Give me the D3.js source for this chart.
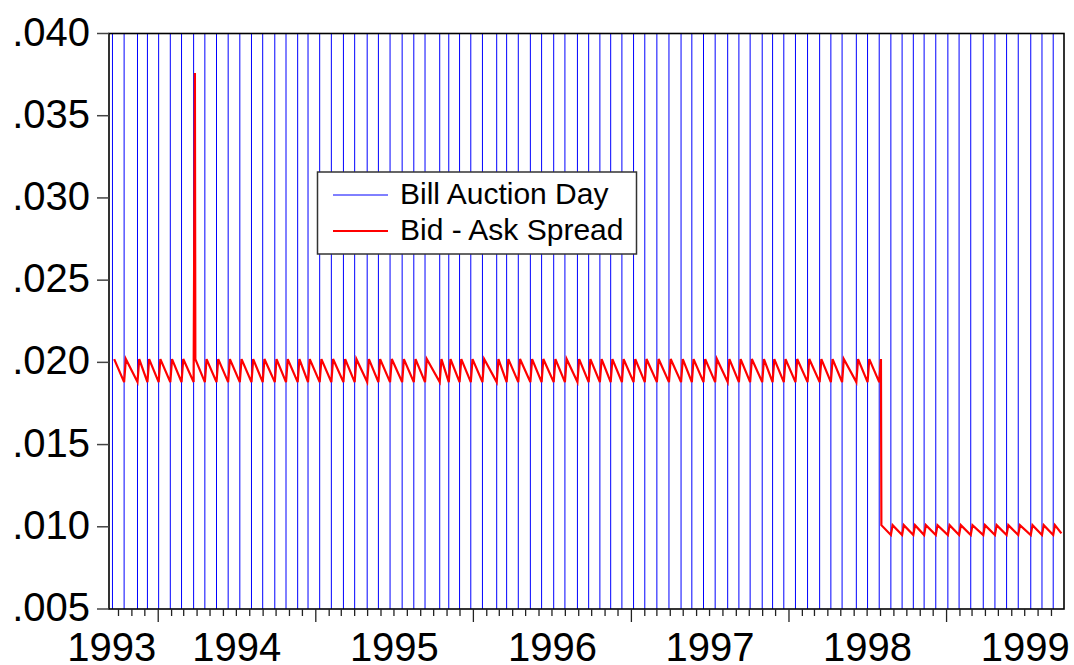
<!DOCTYPE html>
<html>
<head>
<meta charset="utf-8">
<script src="https://cdn.jsdelivr.net/npm/d3@7"></script>
<style>
  body { margin: 0; background: #fff; }
</style>
</head>
<body>
<div id="chart"></div>
<script>
// Bill auction days (blue verticals)
const auctionDates = [
  '1993-09-17', '1993-10-14', '1993-11-14', '1993-12-07',
  '1994-01-02', '1994-01-29', '1994-02-24', '1994-03-24', '1994-04-19', '1994-05-16', '1994-06-12',
  '1994-07-09', '1994-08-05', '1994-08-31', '1994-09-28', '1994-10-24', '1994-11-20', '1994-12-14',
  '1995-01-10', '1995-02-06', '1995-03-06', '1995-04-01', '1995-04-30', '1995-05-26', '1995-06-22',
  '1995-07-20', '1995-08-16', '1995-09-11', '1995-10-15', '1995-11-05', '1995-11-30', '1995-12-26',
  '1996-01-22', '1996-02-24', '1996-03-18', '1996-04-14', '1996-05-12', '1996-06-07', '1996-07-05',
  '1996-07-31', '1996-08-29', '1996-09-24', '1996-10-20', '1996-11-14', '1996-12-10',
  '1997-01-06', '1997-02-01', '1997-03-01', '1997-03-29', '1997-04-26', '1997-05-21', '1997-06-17',
  '1997-07-14', '1997-08-12', '1997-09-07', '1997-10-03', '1997-10-31', '1997-11-24', '1997-12-20',
  '1998-01-16', '1998-02-13', '1998-03-13', '1998-04-08', '1998-05-04', '1998-06-06', '1998-07-02',
  '1998-07-29', '1998-08-25', '1998-09-20', '1998-10-16', '1998-11-10', '1998-12-07',
  '1999-01-04', '1999-01-30', '1999-02-26', '1999-03-27', '1999-04-23', '1999-05-20', '1999-06-16',
  '1999-07-15', '1999-08-10', '1999-09-05'
];

// spread just after each auction (peak) and on the auction day itself (trough)
const spreadPeak = [
  .0202, .0202, .0202, .0202,
  .0202, .0202, .0202, .0202, .0202, .0202, .0202, .0202, .0202, .0202, .0202, .0202, .0202, .0202,
  .0202, .0202, .0202, .0202, .0202, .0202, .0202, .0202, .0202, .0202, .0202, .0202, .0202, .0202,
  .0202, .0202, .0202, .0202, .0202, .0202, .0202, .0202, .0202, .0202, .0202, .0202, .0202,
  .0202, .0202, .0202, .0202, .0202, .0202, .0202, .0202, .0202, .0202, .0202, .0202, .0202, .0202,
  .0202, .0202, .0202, .0202, .0202, .0202, .0202,
  .0101, .0101, .0101, .0101, .0101, .0101,
  .0101, .0101, .0101, .0101, .0101, .0101, .0101, .0101, .0101, .0101
];
const spreadTrough = [
  null, .0188, .0188, .0188,
  .0188, .0188, .0188, .0188, .0188, .0188, .0188, .0188, .0188, .0188, .0188, .0188, .0188, .0188,
  .0188, .0188, .0188, .0188, .0188, .0188, .0188, .0188, .0188, .0188, .0188, .0188, .0188, .0188,
  .0188, .0188, .0188, .0188, .0188, .0188, .0188, .0188, .0188, .0188, .0188, .0188, .0188,
  .0188, .0188, .0188, .0188, .0188, .0188, .0188, .0188, .0188, .0188, .0188, .0188, .0188, .0188,
  .0188, .0188, .0188, .0188, .0188, .0188, .0188,
  .0188, .0095, .0095, .0095, .0095, .0095,
  .0095, .0095, .0095, .0095, .0095, .0095, .0095, .0095, .0095, .0095
];
// odd points: the March 1994 spike and the last high day before the drop
const spreadExtraDates = ['1994-03-27', '1998-08-02'];
const spreadExtraValues = [.0376, .0202];
const spreadEnd = { date: '1999-09-24', value: .0096 };
const PEAK_LAG_DAYS = 4;

const yTicks = [.005, .010, .015, .020, .025, .030, .035, .040];
const years = [1993, 1994, 1995, 1996, 1997, 1998, 1999];

const W = 1074, H = 665;
const PLOT = { left: 109, right: 1064, top: 33.5, bottom: 609 };
const FONT = 'Arial, "Liberation Sans", sans-serif';
const parse = d3.utcParse('%Y-%m-%d');

const x = d3.scaleUtc()
  .domain([parse('1993-09-09'), parse('1999-09-30')])
  .range([PLOT.left, PLOT.right]);
const y = d3.scaleLinear().domain([.005, .040]).range([PLOT.bottom, PLOT.top]);

// build the sawtooth vertices
const spread = [];
auctionDates.forEach((s, i) => {
  const d = parse(s);
  if (spreadTrough[i] != null) spread.push([d, spreadTrough[i]]);
  const lag = i === 66 ? PEAK_LAG_DAYS + 1 : PEAK_LAG_DAYS;
  spread.push([d3.utcDay.offset(d, lag), spreadPeak[i]]);
});
spreadExtraDates.forEach((s, i) => spread.push([parse(s), spreadExtraValues[i]]));
spread.push([parse(spreadEnd.date), spreadEnd.value]);
spread.sort((a, b) => a[0] - b[0]);

const svg = d3.select('#chart').append('svg')
  .attr('width', W)
  .attr('height', H)
  .style('font-family', FONT);

// auction day lines
svg.append('g')
  .selectAll('line')
  .data(auctionDates.map(parse))
  .join('line')
  .attr('x1', d => x(d)).attr('x2', d => x(d))
  .attr('y1', PLOT.top).attr('y2', PLOT.bottom)
  .attr('stroke', '#0000ff')
  .attr('stroke-width', 1);

// spread
svg.append('path')
  .datum(spread)
  .attr('fill', 'none')
  .attr('stroke', '#ff0000')
  .attr('stroke-width', 2.2)
  .attr('d', d3.line().x(d => x(d[0])).y(d => y(d[1])));

// frame
svg.append('rect')
  .attr('x', PLOT.left).attr('y', PLOT.top)
  .attr('width', PLOT.right - PLOT.left)
  .attr('height', PLOT.bottom - PLOT.top)
  .attr('fill', 'none')
  .attr('stroke', '#000')
  .attr('stroke-width', 1.6);

// y axis ticks + labels
const yAxis = svg.append('g');
yAxis.selectAll('line')
  .data(yTicks)
  .join('line')
  .attr('x1', PLOT.left - 12).attr('x2', PLOT.left)
  .attr('y1', d => y(d)).attr('y2', d => y(d))
  .attr('stroke', '#444')
  .attr('stroke-width', 1.5);
yAxis.selectAll('text')
  .data(yTicks)
  .join('text')
  .attr('x', 90)
  .attr('y', d => y(d) + 12)
  .attr('text-anchor', 'end')
  .style('font-size', '40px')
  .text(d => d3.format('.3f')(d).replace(/^0/, ''));

// x axis: monthly minor ticks, yearly major ticks
const xAxis = svg.append('g');
const months = d3.utcMonth.range(x.domain()[0], x.domain()[1]);
xAxis.selectAll('line')
  .data(months)
  .join('line')
  .attr('x1', d => x(d)).attr('x2', d => x(d))
  .attr('y1', PLOT.bottom)
  .attr('y2', d => PLOT.bottom + (d.getUTCMonth() === 0 ? 13 : 7))
  .attr('stroke', '#222')
  .attr('stroke-width', 1.3);
xAxis.selectAll('text')
  .data(years)
  .join('text')
  .attr('x', (d, i) => i === 0
    ? x(Date.UTC(d + 1, 0, 1)) - 2
    : x(Date.UTC(d, 6, 2)))
  .attr('y', 661)
  .attr('text-anchor', (d, i) => i === 0 ? 'end' : 'middle')
  .style('font-size', '40px')
  .text(d => d);

// legend
const legend = svg.append('g');
legend.append('rect')
  .attr('x', 317.5).attr('y', 172)
  .attr('width', 319).attr('height', 82)
  .attr('fill', '#fff')
  .attr('stroke', '#333')
  .attr('stroke-width', 1.5);
const legendItems = [
  { label: 'Bill Auction Day', color: '#0000ff', width: 1 },
  { label: 'Bid - Ask Spread', color: '#ff0000', width: 2 }
];
legendItems.forEach((it, i) => {
  const cy = 195 + i * 36;
  legend.append('line')
    .attr('x1', 333).attr('x2', 388)
    .attr('y1', cy).attr('y2', cy)
    .attr('stroke', it.color)
    .attr('stroke-width', it.width);
  legend.append('text')
    .attr('x', 400).attr('y', cy + 9)
    .style('font-size', '30px')
    .text(it.label);
});
</script>
</body>
</html>
